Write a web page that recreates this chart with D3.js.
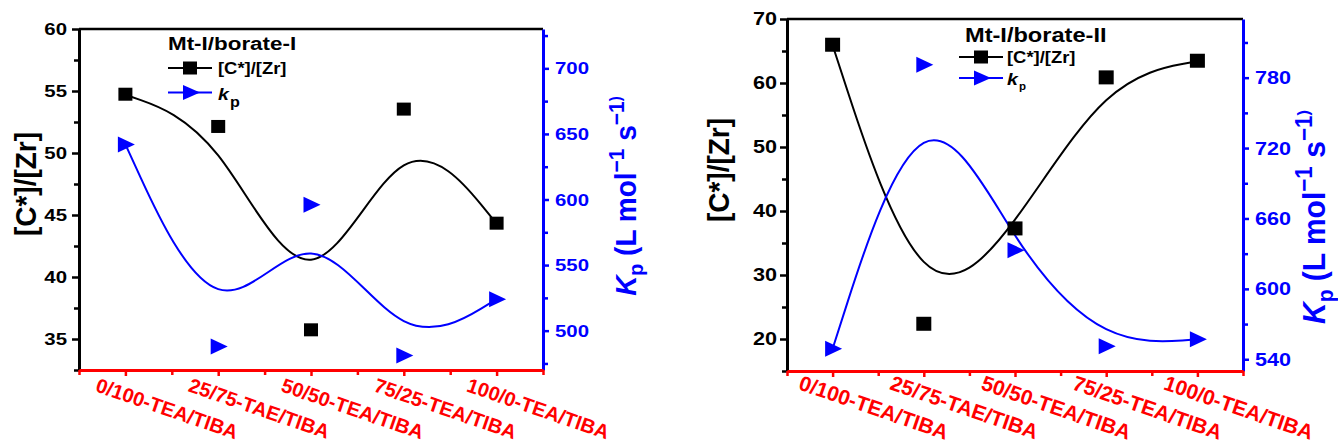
<!DOCTYPE html>
<html><head><meta charset="utf-8">
<script src="https://cdn.jsdelivr.net/npm/d3@7"></script>
<style>
body{margin:0;background:#fff}
text{font-family:"Liberation Sans",Arial,sans-serif;font-weight:bold}
</style>
</head><body><svg id="c" width="1338" height="447"></svg>
<script>
// ---------------- data ----------------
const categories = ["0/100-TEA/TIBA","25/75-TAE/TIBA","50/50-TEA/TIBA","75/25-TEA/TIBA","100/0-TEA/TIBA"];
const czrI  = [54.7, 52.1, 35.7, 53.5, 44.3];
const kpI   = [642, 488, 596, 481, 524];
const czrII = [65.9, 22.3, 37.2, 60.8, 63.4];
const kpII  = [549, 791, 633, 551, 557];
const leftTicksI  = [35, 40, 45, 50, 55, 60];
const leftMinorI  = [32.5, 37.5, 42.5, 47.5, 52.5, 57.5];
const rightTicksI = [500, 550, 600, 650, 700];
const rightMinorI = [475, 525, 575, 625, 675, 725];
const leftTicksII  = [20, 30, 40, 50, 60, 70];
const leftMinorII  = [15, 25, 35, 45, 55, 65];
const rightTicksII = [540, 600, 660, 720, 780];
const rightMinorII = [570, 630, 690, 750, 810];
const titles = ["Mt-I/borate-I", "Mt-I/borate-II"];
const seriesNames = ["[C*]/[Zr]", "k", "p"];
const yTitle = "[C*]/[Zr]";

// ---------------- layout ----------------
const panels = [
  {title: titles[0], czr: czrI, kp: kpI, lt: leftTicksI, lm: leftMinorI, ldom: [32.5, 60],
   rt: rightTicksI, rm: rightMinorI, rdom: [470, 730],
   x0: 79, x1: 543, y0: 29, y1: 370, sx: 1.2, tf: 17, lOff: -12, rOff: 12,
   xf: 20, xlx: -31, xly: 21, sq: 14, tw: 17, th: 16,
   yt: {x: 36, y: 184, fs: 28}, kt: {x: 636, y: 196, fs: 28},
   leg: {tx: 168, ty: 50, tfs: 19, l0: 168, l1: 212, ly1: 68, ly2: 92.5, txx: 218, fs: 16, pfs: 14, pdy: 7}},
  {title: titles[1], czr: czrII, kp: kpII, lt: leftTicksII, lm: leftMinorII, ldom: [15, 70],
   rt: rightTicksII, rm: rightMinorII, rdom: [530, 830],
   x0: 787, x1: 1243, y0: 19, y1: 371, sx: 1.2, tf: 18, lOff: -10, rOff: 12,
   xf: 21, xlx: -35, xly: 18, sq: 15, tw: 17, th: 16,
   yt: {x: 729, y: 170, fs: 28}, kt: {x: 1325, y: 217, fs: 30},
   leg: {tx: 965, ty: 42, tfs: 20, l0: 959, l1: 1003, ly1: 57, ly2: 78, txx: 1007, fs: 16, pfs: 10, pdy: 5}}
];

const BLUE = "#0000ff", RED = "#ff0000";
const TSX = 1.05; // horizontal stretch for vertical titles
const svg = d3.select("#c");

function triPath(w, h) {
  return `M${-w/2},${-h/2}L${w/2},0L${-w/2},${h/2}Z`;
}

panels.forEach(p => {
  const g = svg.append("g");
  const x = d3.scaleLinear().domain([-0.5, 4.5]).range([p.x0, p.x1]);
  const yL = d3.scaleLinear().domain(p.ldom).range([p.y1, p.y0]);
  const yR = d3.scaleLinear().domain(p.rdom).range([p.y1, p.y0]);

  // curves (B-spline through control points)
  const lineL = d3.line().x((d, i) => x(i)).y(d => yL(d)).curve(d3.curveBasis);
  const lineR = d3.line().x((d, i) => x(i)).y(d => yR(d)).curve(d3.curveBasis);
  g.append("path").attr("d", lineL(p.czr)).attr("fill", "none").attr("stroke", "#000").attr("stroke-width", 2);
  g.append("path").attr("d", lineR(p.kp)).attr("fill", "none").attr("stroke", BLUE).attr("stroke-width", 2);

  // top frame line
  g.append("line").attr("x1", p.x0).attr("x2", p.x1).attr("y1", p.y0).attr("y2", p.y0)
    .attr("stroke", "#000").attr("stroke-width", 2.5);

  // left axis
  const aL = g.append("g").attr("transform", `translate(${p.x0},0)`).attr("color", "#000")
    .call(d3.axisLeft(yL).tickValues(p.lt).tickSize(7).tickSizeOuter(0).tickFormat(""));
  aL.select(".domain").attr("stroke-width", 3);
  aL.selectAll(".tick line").attr("stroke-width", 2.5);
  const aLm = g.append("g").attr("transform", `translate(${p.x0},0)`).attr("color", "#000")
    .call(d3.axisLeft(yL).tickValues(p.lm).tickSize(5).tickFormat(""));
  aLm.select(".domain").remove();
  aLm.selectAll(".tick line").attr("stroke-width", 2.5);

  // right axis
  const aR = g.append("g").attr("transform", `translate(${p.x1},0)`).attr("color", BLUE)
    .call(d3.axisRight(yR).tickValues(p.rt).tickSize(6).tickSizeOuter(0).tickFormat(""));
  aR.select(".domain").attr("stroke-width", 3);
  aR.selectAll(".tick line").attr("stroke-width", 2.5);
  const aRm = g.append("g").attr("transform", `translate(${p.x1},0)`).attr("color", BLUE)
    .call(d3.axisRight(yR).tickValues(p.rm).tickSize(5).tickFormat(""));
  aRm.select(".domain").remove();
  aRm.selectAll(".tick line").attr("stroke-width", 2.5);

  // bottom axis
  const aB = g.append("g").attr("transform", `translate(0,${p.y1})`).attr("color", RED)
    .call(d3.axisBottom(x).tickValues(categories.map((c, i) => i)).tickSize(6).tickSizeOuter(0).tickFormat(""));
  aB.select(".domain").attr("stroke-width", 3);
  aB.selectAll(".tick line").attr("stroke-width", 2.5);
  const aBm = g.append("g").attr("transform", `translate(0,${p.y1})`).attr("color", RED)
    .call(d3.axisBottom(x).tickValues(categories.map((c, i) => i - 0.5).concat([categories.length - 0.5])).tickSize(5).tickFormat(""));
  aBm.select(".domain").remove();
  aBm.selectAll(".tick line").attr("stroke-width", 2.5);

  // tick labels
  p.lt.forEach(v => {
    g.append("text").attr("transform", `translate(${p.x0 + p.lOff},${yL(v)}) scale(${p.sx},1)`)
      .attr("text-anchor", "end").attr("dy", "0.36em").attr("font-size", p.tf).attr("fill", "#000").text(v);
  });
  p.rt.forEach(v => {
    g.append("text").attr("transform", `translate(${p.x1 + p.rOff},${yR(v)}) scale(${p.sx},1)`)
      .attr("text-anchor", "start").attr("dy", "0.36em").attr("font-size", p.tf).attr("fill", BLUE).text(v);
  });
  categories.forEach((c, i) => {
    g.append("text").attr("transform", `translate(${x(i) + p.xlx},${p.y1 + p.xly}) rotate(19)`)
      .attr("font-size", p.xf).attr("fill", RED).text(c);
  });

  // markers
  g.selectAll("rect.sq").data(p.czr).join("rect").attr("class", "sq")
    .attr("x", (d, i) => x(i) - p.sq / 2).attr("y", d => yL(d) - p.sq / 2)
    .attr("width", p.sq).attr("height", p.sq - 1).attr("fill", "#000");
  g.selectAll("path.tri").data(p.kp).join("path").attr("class", "tri")
    .attr("transform", (d, i) => `translate(${x(i) + 1},${yR(d)})`)
    .attr("d", triPath(p.tw, p.th)).attr("fill", BLUE);

  // axis titles
  g.append("text").attr("transform", `translate(${p.yt.x},${p.yt.y}) scale(${TSX},1) rotate(-90)`)
    .attr("text-anchor", "middle").attr("font-size", p.yt.fs).attr("fill", "#000").text(yTitle);
  const fs = p.kt.fs;
  const t = g.append("text").attr("transform", `translate(${p.kt.x},${p.kt.y}) scale(${TSX},1) rotate(-90)`)
    .attr("text-anchor", "middle").attr("font-size", fs).attr("fill", BLUE);
  t.append("tspan").attr("font-style", "italic").text("K");
  t.append("tspan").attr("font-size", fs * 0.7).attr("dy", fs * 0.25).text("p");
  t.append("tspan").attr("dy", -fs * 0.25).text(" (L mol");
  t.append("tspan").attr("font-size", fs * 0.75).attr("dy", -fs * 0.4).text("\u22121");
  t.append("tspan").attr("dy", fs * 0.4).text(" s");
  t.append("tspan").attr("font-size", fs * 0.75).attr("dy", -fs * 0.4).text("\u22121");
  t.append("tspan").attr("font-size", fs * 0.55).attr("dy", -fs * 0.1).text(")");

  // legend
  const L = p.leg;
  g.append("text").attr("transform", `translate(${L.tx},${L.ty}) scale(1.18,1)`)
    .attr("font-size", L.tfs).attr("fill", "#000").text(p.title);
  const lm = (L.l0 + L.l1) / 2;
  g.append("line").attr("x1", L.l0).attr("x2", L.l1).attr("y1", L.ly1).attr("y2", L.ly1).attr("stroke", "#000").attr("stroke-width", 2);
  g.append("rect").attr("x", lm - 7).attr("y", L.ly1 - 6.5).attr("width", 14).attr("height", 13).attr("fill", "#000");
  g.append("text").attr("transform", `translate(${L.txx},${L.ly1 + 6}) scale(1.15,1)`)
    .attr("font-size", L.fs).attr("fill", "#000").text(seriesNames[0]);
  g.append("line").attr("x1", L.l0).attr("x2", L.l1).attr("y1", L.ly2).attr("y2", L.ly2).attr("stroke", BLUE).attr("stroke-width", 2);
  g.append("path").attr("transform", `translate(${lm + 1.5},${L.ly2})`).attr("d", triPath(17, 15)).attr("fill", BLUE);
  const kt = g.append("text").attr("transform", `translate(${L.txx},${L.ly2 + 7}) scale(1.15,1)`)
    .attr("font-size", L.fs + 1).attr("fill", "#000");
  kt.append("tspan").attr("font-style", "italic").text(seriesNames[1]);
  kt.append("tspan").attr("font-size", L.pfs).attr("dy", L.pdy).attr("dx", 1).text(seriesNames[2]);
});
</script>
</body></html>
